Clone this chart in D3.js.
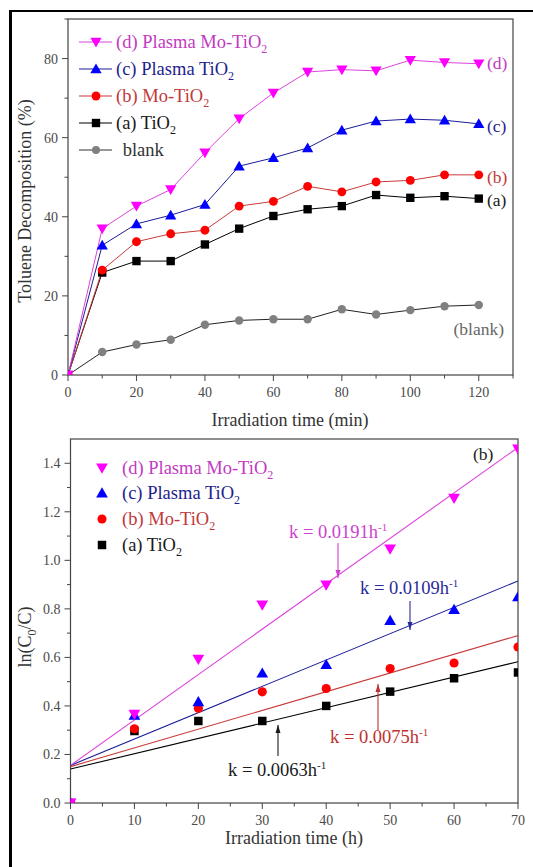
<!DOCTYPE html>
<html><head><meta charset="utf-8">
<script src="https://cdn.jsdelivr.net/npm/d3@7"></script>
<style>body{margin:0;background:#fff}svg{display:block;font-family:"Liberation Serif","Times New Roman",serif}</style>
</head><body><svg id="c" width="533" height="867"></svg>
<script>
// ---------- data: top chart (toluene decomposition %) ----------
const timeMin = [0,10,20,30,40,50,60,70,80,90,100,110,120];
const decompD = [0,37.0,42.7,46.9,56.2,64.8,71.3,76.6,77.2,76.9,79.6,79.0,78.7];
const decompC = [0,32.8,38.2,40.4,43.1,52.8,54.9,57.4,61.9,64.2,64.7,64.4,63.5];
const decompB = [0,26.5,33.7,35.7,36.6,42.7,43.9,47.7,46.3,48.8,49.2,50.6,50.6];
const decompA = [0,25.9,28.8,28.8,33.0,37.0,40.2,41.9,42.7,45.5,44.8,45.2,44.6];
const decompBlank = [0,5.8,7.7,8.9,12.7,13.8,14.1,14.1,16.6,15.3,16.4,17.4,17.7];
const topXTicks = [0,20,40,60,80,100,120];
const topYTicks = [0,20,40,60,80];
const endLabels = ["(d)","(c)","(b)","(a)","(blank)"];

// ---------- data: bottom chart (ln(C0/C)) ----------
const timeH = [0,10,20,30,40,50,60,70];
const lnD = [0,0.366,0.593,0.816,0.899,1.047,1.256,1.459];
const lnC = [0,0.361,0.417,0.535,0.570,0.752,0.797,0.850];
const lnB = [0,0.306,0.390,0.458,0.472,0.554,0.577,0.643];
const lnA = [0,0.297,0.338,0.338,0.400,0.459,0.514,0.538];
const fitStart = [0.155,0.155,0.150,0.140];   // fitted line value at t=0 (d,c,b,a)
const fitEnd = [1.465,0.915,0.690,0.582];     // fitted line value at t=70
const kLabels = ["k = 0.0191h","k = 0.0109h","k = 0.0075h","k = 0.0063h"];
const botXTicks = [0,10,20,30,40,50,60,70];
const botYTicks = [0,0.2,0.4,0.6,0.8,1.0,1.2,1.4];

// ---------- styles ----------
const markerCol = ["#ff00ff","#0000ff","#ff0000","#000000","#808080"];
const lineCol = ["#dd44dd","#1c1c9a","#c83a3a","#000000","#222222"];
const textCol = ["#c23ac2","#1e1e8c","#c0393b","#1a1a1a","#333333"];
const symbols = ["tri-down","tri-up","circle","square","circle"];

const svg = d3.select("#c");

// frame
svg.append("line").attr("x1",10).attr("x2",533).attr("y1",11).attr("y2",11).attr("stroke","#000").attr("stroke-width",2);
svg.append("line").attr("x1",10.5).attr("x2",10.5).attr("y1",10).attr("y2",867).attr("stroke","#000").attr("stroke-width",3);

function marker(g, type, x, y, color, sz){
  let sym, rot = 0;
  if(type==="tri-down"){sym=d3.symbolTriangle; rot=180;}
  else if(type==="tri-up"){sym=d3.symbolTriangle;}
  else if(type==="square"){sym=d3.symbolSquare;}
  else sym=d3.symbolCircle;
  const s = sz[type];
  g.append("path").attr("d", d3.symbol().type(sym).size(s)())
   .attr("transform",`translate(${x},${y}) rotate(${rot})`+(type.startsWith("tri")?` translate(0,1)`:""))
   .attr("fill",color);
}

function sub(t, s, dy){
  t.append("tspan").attr("font-size","12px").attr("dy",dy||5).text(s);
}

function axes(g, x, y, xt, xminor, yt, yminor, xfmt, yfmt, L, R, T, B){
  const ac = "#444";
  g.append("rect").attr("x",L).attr("y",T).attr("width",R-L).attr("height",B-T)
    .attr("fill","none").attr("stroke",ac).attr("stroke-width",1.2);
  xminor.forEach(v=>g.append("line").attr("x1",x(v)).attr("x2",x(v)).attr("y1",B).attr("y2",B+3.5).attr("stroke",ac));
  xt.forEach(v=>{
    g.append("line").attr("x1",x(v)).attr("x2",x(v)).attr("y1",B).attr("y2",B+6).attr("stroke",ac);
    g.append("text").attr("x",x(v)).attr("y",B+22).attr("text-anchor","middle").attr("font-size","14px").attr("fill","#4a4a4a").text(xfmt(v));
  });
  yminor.forEach(v=>g.append("line").attr("x1",L).attr("x2",L-3.5).attr("y1",y(v)).attr("y2",y(v)).attr("stroke",ac));
  yt.forEach(v=>{
    g.append("line").attr("x1",L).attr("x2",L-6).attr("y1",y(v)).attr("y2",y(v)).attr("stroke",ac);
    g.append("text").attr("x",L-10).attr("y",y(v)+5).attr("text-anchor","end").attr("font-size","14px").attr("fill","#4a4a4a").text(yfmt(v));
  });
}

// ================= TOP CHART =================
{
  const L=68,R=513,T=19,B=375;
  const x=d3.scaleLinear().domain([0,130]).range([L,R]);
  const y=d3.scaleLinear().domain([0,90]).range([B,T]);
  const g=svg.append("g");
  g.append("clipPath").attr("id","clipTop").append("rect").attr("x",L).attr("y",T).attr("width",R-L).attr("height",B-T);
  axes(g,x,y,topXTicks,d3.range(10,131,20),topYTicks,d3.range(10,91,20),d=>d,d=>d,L,R,T,B);
  const data=[decompD,decompC,decompB,decompA,decompBlank];
  const sz={"tri-down":55,"tri-up":55,"circle":62,"square":70};
  const line=d3.line().x((d,i)=>x(timeMin[i])).y(d=>y(d));
  const pg=g.append("g").attr("clip-path","url(#clipTop)");
  [4,3,2,1,0].forEach(k=>{
    pg.append("path").attr("d",line(data[k])).attr("fill","none").attr("stroke",lineCol[k]).attr("stroke-width",1);
  });
  [4,3,2,1,0].forEach(k=>{
    data[k].forEach((v,i)=>marker(pg,symbols[k],x(timeMin[i]),y(v),markerCol[k],k===4?{"circle":56}:sz));
  });
  // end labels
  const endY=[63,126,177,199.5,328.5];
  endLabels.forEach((t,k)=>{
    g.append("text").attr("x",k===4?504:487).attr("y",endY[k]+6).attr("text-anchor",k===4?"end":"start")
     .attr("font-size","17.5px").attr("fill",k===4?"#666":textCol[k]).text(t);
  });
  // legend
  const names=[["(d) Plasma Mo-TiO","2"],["(c) Plasma TiO","2"],["(b) Mo-TiO","2"],["(a) TiO","2"],[" blank",""]];
  const ly=[42,69,96,123,150];
  names.forEach((n,k)=>{
    g.append("line").attr("x1",79).attr("x2",112).attr("y1",ly[k]).attr("y2",ly[k]).attr("stroke",k===4?"#333":lineCol[k]).attr("stroke-width",1.2);
    marker(g,symbols[k],96,ly[k],markerCol[k],k===4?{"circle":50}:sz);
    const t=g.append("text").attr("x",k===4?118:116).attr("y",ly[k]+6).attr("font-size","18.5px").attr("fill",textCol[k]).attr("xml:space","preserve").text(n[0]);
    if(n[1]) sub(t,n[1],5);
  });
  // axis titles
  g.append("text").attr("x",290).attr("y",426).attr("text-anchor","middle").attr("font-size","18px").attr("fill","#333").text("Irradiation time (min)");
  g.append("text").attr("transform","translate(31,201) rotate(-90)").attr("text-anchor","middle").attr("font-size","18px").attr("fill","#333").text("Toluene Decomposition (%)");
}

// ================= BOTTOM CHART =================
{
  const L=70.5,R=518,T=439,B=803;
  const x=d3.scaleLinear().domain([0,70]).range([L,R]);
  const y=d3.scaleLinear().domain([0,1.5]).range([B,T]);
  const g=svg.append("g");
  g.append("clipPath").attr("id","clipBot").append("rect").attr("x",L).attr("y",T).attr("width",R-L).attr("height",B-T);
  axes(g,x,y,botXTicks,d3.range(5,70,10),botYTicks,d3.range(0.1,1.5,0.2),d=>d,d=>d.toFixed(1),L,R,T,B);
  const data=[lnD,lnC,lnB,lnA];
  const sz={"tri-down":60,"tri-up":60,"circle":66,"square":72};
  const pg=g.append("g").attr("clip-path","url(#clipBot)");
  // fitted lines
  [3,2,1,0].forEach(k=>{
    pg.append("line").attr("x1",x(0)).attr("y1",y(fitStart[k])).attr("x2",x(70)).attr("y2",y(fitEnd[k]))
      .attr("stroke",lineCol[k]).attr("stroke-width",1.1);
  });
  [3,2,1,0].forEach(k=>{
    data[k].forEach((v,i)=>marker(pg,symbols[k],x(timeH[i]),y(v),markerCol[k],sz));
  });
  // legend
  const names=[["(d) Plasma Mo-TiO","2"],["(c) Plasma TiO","2"],["(b) Mo-TiO","2"],["(a) TiO","2"]];
  const ly=[468,493,519,545];
  names.forEach((n,k)=>{
    marker(g,symbols[k],102,ly[k],markerCol[k],sz);
    const t=g.append("text").attr("x",122).attr("y",ly[k]+6).attr("font-size","18.5px").attr("fill",textCol[k]).text(n[0]);
    sub(t,n[1],5);
  });
  // k annotations
  const kPos=[[289,538],[360,594],[330,743],[228,776]];
  const arrows=[[338,543,338,578],[410,601,410,630],[378,730,378,684],[278,756,278,725]];
  const kCol=["#d040d0","#2a2a9a","#c03030","#1a1a1a"];
  kLabels.forEach((s,k)=>{
    const t=g.append("text").attr("x",kPos[k][0]).attr("y",kPos[k][1]).attr("font-size","18.5px").attr("fill",kCol[k]).text(s);
    t.append("tspan").attr("font-size","11px").attr("dy",-7).text("-1");
    const a=arrows[k];
    g.append("line").attr("x1",a[0]).attr("y1",a[1]).attr("x2",a[2]).attr("y2",a[3]).attr("stroke",kCol[k]).attr("stroke-width",1.1);
    const dir=a[3]>a[1]?1:-1;
    g.append("path").attr("d",`M${a[2]},${a[3]} L${a[2]-2.5},${a[3]-dir*8} L${a[2]+2.5},${a[3]-dir*8} Z`).attr("fill",kCol[k]);
  });
  g.append("text").attr("x",473).attr("y",460).attr("font-size","17.5px").attr("fill","#222").text("(b)");
  // axis titles
  g.append("text").attr("x",294).attr("y",844).attr("text-anchor","middle").attr("font-size","18px").attr("fill","#333").text("Irradiation time (h)");
  const yt=g.append("text").attr("transform","translate(31,637) rotate(-90)").attr("text-anchor","middle").attr("font-size","18px").attr("fill","#333").text("ln(C");
  yt.append("tspan").attr("font-size","12px").attr("dy",5).text("0");
  yt.append("tspan").attr("dy",-5).text("/C)");
}
</script></body></html>
